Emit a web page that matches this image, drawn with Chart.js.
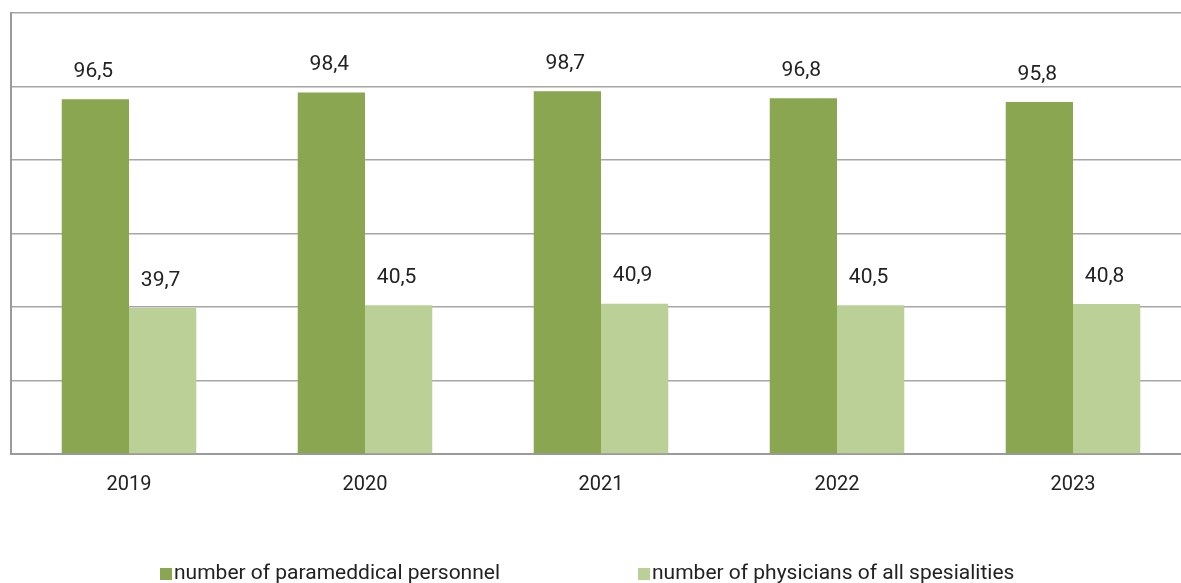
<!DOCTYPE html>
<html lang="en">
<head>
<meta charset="UTF-8">
<title>Personnel</title>
<script src="https://cdn.jsdelivr.net/npm/chart.js"></script>
<style>
  body { margin: 0; background: #fff; font-family: Roboto, sans-serif; }
  #wrap { position: relative; width: 1181px; height: 583px; overflow: hidden; }
  #box { width: 1200px; height: 583px; }
  .leg { position: absolute; top: 560px; font-size: 21px; line-height: 24px; color: #222; white-space: nowrap; }
  .leg i { display: inline-block; width: 12px; height: 12px; margin-right: 2px; vertical-align: -1px; }
</style>
</head>
<body>
<div id="wrap">
  <div id="box"><canvas id="grafica"></canvas></div>
  <div class="leg" id="leg0" style="left:160px"></div>
  <div class="leg" id="leg1" style="left:638px"></div>
</div>
<script>
const years = ['2019', '2020', '2021', '2022', '2023'];
const paramedical = [96.5, 98.4, 98.7, 96.8, 95.8];
const physicians = [39.7, 40.5, 40.9, 40.5, 40.8];
const seriesNames = ['number of parameddical personnel', 'number of physicians of all spesialities'];
const colors = ['#8ba650', '#bad097'];

// value labels above each bar, comma decimals
const barLabels = {
  id: 'barLabels',
  afterDatasetsDraw(chart) {
    const ctx = chart.ctx;
    ctx.save();
    ctx.font = '21px Roboto';
    ctx.fillStyle = '#222';
    ctx.textAlign = 'center';
    ctx.textBaseline = 'bottom';
    chart.data.datasets.forEach((ds, i) => {
      chart.getDatasetMeta(i).data.forEach((bar, j) => {
        ctx.fillText(ds.data[j].toFixed(1).replace('.', ','), bar.x - 2, bar.y - 17);
      });
    });
    ctx.restore();
  }
};

const chart = new Chart(document.getElementById('grafica'), {
  type: 'bar',
  data: {
    labels: years,
    datasets: [
      { label: seriesNames[0], data: paramedical, backgroundColor: colors[0] },
      { label: seriesNames[1], data: physicians, backgroundColor: colors[1] }
    ]
  },
  options: {
    responsive: true,
    maintainAspectRatio: false,
    animation: false,
    layout: { padding: { left: 11, top: 13, right: 9, bottom: 0 } },
    datasets: { bar: { categoryPercentage: 0.57, barPercentage: 1 } },
    plugins: { legend: { display: false }, tooltip: { enabled: false } },
    scales: {
      x: {
        grid: { display: false },
        border: { color: '#9a9a9a', width: 2 },
        ticks: { color: '#222', font: { family: 'Roboto', size: 20 }, padding: 11 },
        afterFit: s => { s.height = 129; }
      },
      y: {
        min: 0, max: 120,
        ticks: { display: false, stepSize: 20 },
        grid: { color: '#a6a6a6', lineWidth: 1.5, drawTicks: false },
        border: { color: '#9a9a9a', width: 2 },
        afterFit: s => { s.width = 0; }
      }
    }
  },
  plugins: [barLabels]
});

chart.data.datasets.forEach((ds, i) => {
  document.getElementById('leg' + i).innerHTML =
    '<i style="background:' + ds.backgroundColor + '"></i>' + ds.label;
});
</script>
</body>
</html>
